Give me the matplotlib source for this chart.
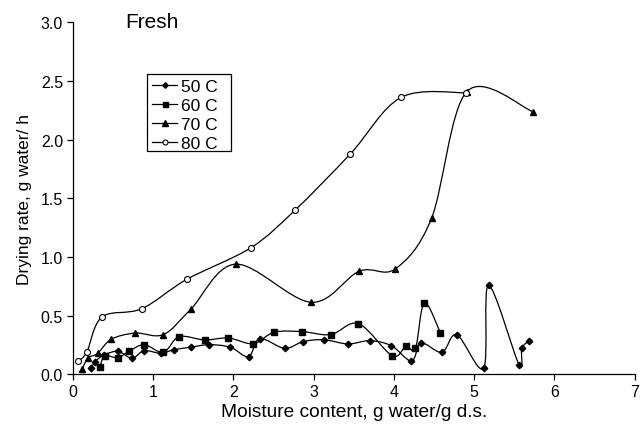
import numpy as np
import matplotlib as mpl; mpl.use("Agg"); import matplotlib.pyplot as plt
from matplotlib.path import Path
from matplotlib.patches import PathPatch, Rectangle
from matplotlib.lines import Line2D

mpl.rcParams.update({"font.family":["Liberation Sans","DejaVu Sans"],"font.size":11.5,
 "axes.linewidth":0.9,"xtick.direction":"out","ytick.direction":"out"})

# ---- data ----
x50=[0.23,0.28,0.39,0.565,0.74,0.89,1.10,1.26,1.47,1.70,1.965,2.19,2.33,2.64,2.87,3.13,3.43,3.70,3.97,4.22,4.34,4.60,4.785,5.12,5.18,5.56,5.595,5.68]
y50=[0.055,0.11,0.166,0.197,0.138,0.203,0.18,0.211,0.232,0.254,0.232,0.152,0.305,0.223,0.28,0.296,0.26,0.288,0.245,0.115,0.268,0.189,0.339,0.055,0.76,0.083,0.226,0.283]
x60=[0.34,0.40,0.56,0.70,0.89,1.13,1.325,1.645,1.94,2.25,2.51,2.86,3.215,3.56,3.98,4.15,4.27,4.38,4.58]
y60=[0.066,0.16,0.143,0.197,0.254,0.189,0.322,0.294,0.311,0.262,0.36,0.365,0.34,0.433,0.16,0.24,0.223,0.61,0.356]
x70=[0.12,0.19,0.31,0.48,0.78,1.13,1.47,2.03,2.97,3.57,4.02,4.47,4.91,5.73]
y70=[0.05,0.14,0.18,0.30,0.353,0.34,0.555,0.94,0.615,0.88,0.90,1.33,2.41,2.24]
x80=[0.07,0.175,0.365,0.86,1.42,2.22,2.77,3.46,4.09,4.90]
y80=[0.115,0.19,0.49,0.56,0.81,1.08,1.40,1.88,2.36,2.40]
labels=["50 C","60 C","70 C","80 C"]

def smooth_path(xs,ys):
    # excel-like smoothed line: catmull-rom as cubic bezier
    p=np.column_stack([xs,ys]).astype(float)
    n=len(p); verts=[p[0]]; codes=[Path.MOVETO]
    for i in range(n-1):
        a=p[max(i-1,0)]; b=p[i]; c=p[i+1]; d=p[min(i+2,n-1)]
        verts+= [b+(c-a)/6, c-(d-b)/6, c]; codes+=[Path.CURVE4]*3
    return Path(verts,codes)

fig=plt.figure(figsize=(6.4,4.31),dpi=100)
ax=fig.add_axes([0.1136,0.1288,0.878,0.8172])
styles=[dict(marker="D",ms=3.3,mfc="k"),dict(marker="s",ms=4.4,mfc="k"),
        dict(marker="^",ms=4.9,mfc="k"),dict(marker="o",ms=4.3,mfc="white",mew=0.8)]
leg_ms=[2.8,3.6,4.0,3.6]
handles=[]
for (xs,ys),st,lab,lm in zip([(x50,y50),(x60,y60),(x70,y70),(x80,y80)],styles,labels,leg_ms):
    ax.add_patch(PathPatch(smooth_path(xs,ys),fc="none",ec="k",lw=0.9,zorder=2))
    ax.plot(xs,ys,ls="none",color="k",zorder=3,**st)
    hs=dict(st); hs["ms"]=lm
    handles.append(Line2D([],[],color="k",lw=0.9,label=lab,**hs))

ax.set_xlim(0,7); ax.set_ylim(0,3.0)
ax.set_xticks(range(0,8)); ax.set_yticks(np.arange(0,3.01,0.5))
ax.set_yticklabels([f"{v:.1f}" for v in np.arange(0,3.01,0.5)])
ax.spines[["top","right"]].set_visible(False)
ax.tick_params(length=4,width=0.9,pad=3)
ax.set_xlabel("Moisture content, g water/g d.s.",fontsize=13.8,labelpad=3)
ax.set_ylabel("Drying rate, g water/ h",fontsize=12.5,labelpad=6)
ax.text(0.65,2.96,"Fresh",fontsize=15,va="baseline")
leg=ax.legend(handles=handles,loc="upper left",bbox_to_anchor=(152/640,1-80/431),
    bbox_transform=fig.transFigure,frameon=False,
    fontsize=12.5,handlelength=1.45,handletextpad=0.2,labelspacing=0.22,borderpad=0.0,
    borderaxespad=0)
# legend box as drawn in the original (wide right margin)
fig.patches.append(Rectangle((147/640,1-152/431),84/640,77/431,transform=fig.transFigure,
    fill=False,ec="k",lw=0.9))
fig.savefig("out.png",dpi=100)
